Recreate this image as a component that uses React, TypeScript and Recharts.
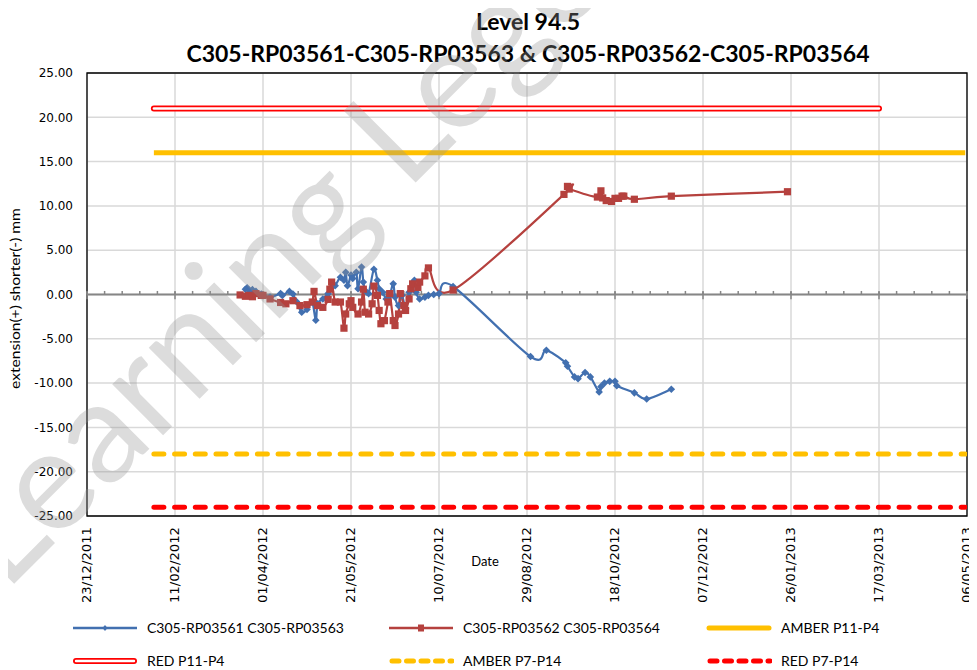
import React from 'react'
import { LineChart, Line, XAxis, YAxis, CartesianGrid, ReferenceLine, ReferenceArea, Legend } from 'recharts'

const DAY = 86400000
const toTime = (s: string) => {
  const [d, m, y] = s.split('/').map(Number)
  return Date.UTC(y, m - 1, d)
}
const pad = (n: number) => (n < 10 ? '0' + n : '' + n)
const fmtDate = (t: number) => {
  const dt = new Date(t)
  return `${pad(dt.getUTCDate())}/${pad(dt.getUTCMonth() + 1)}/${dt.getUTCFullYear()}`
}

// axes
const xStart = '23/12/2011'
const xEnd = '06/05/2013'
const majorStepDays = 50
const minorStepDays = 10
const yTicks = [-25, -20, -15, -10, -5, 0, 5, 10, 15, 20, 25]

// C305-RP03561 C305-RP03563
const blueDates = [
  '22/03/2012', '23/03/2012', '24/03/2012', '26/03/2012', '28/03/2012', '31/03/2012', '05/04/2012', '11/04/2012',
  '12/04/2012', '16/04/2012', '18/04/2012', '20/04/2012', '23/04/2012', '26/04/2012', '29/04/2012', '01/05/2012',
  '02/05/2012', '05/05/2012', '08/05/2012', '12/05/2012', '15/05/2012', '17/05/2012', '18/05/2012', '19/05/2012',
  '21/05/2012', '22/05/2012', '24/05/2012', '25/05/2012', '27/05/2012', '28/05/2012', '29/05/2012', '31/05/2012',
  '03/06/2012', '05/06/2012', '06/06/2012', '08/06/2012', '10/06/2012', '12/06/2012', '14/06/2012', '15/06/2012',
  '17/06/2012', '19/06/2012', '21/06/2012', '23/06/2012', '26/06/2012', '27/06/2012', '29/06/2012', '02/07/2012',
  '04/07/2012', '07/07/2012', '10/07/2012', '18/07/2012', '31/08/2012', '09/09/2012', '20/09/2012', '21/09/2012',
  '25/09/2012', '27/09/2012', '01/10/2012', '04/10/2012', '09/10/2012', '10/10/2012', '12/10/2012', '15/10/2012',
  '18/10/2012', '19/10/2012', '29/10/2012', '05/11/2012', '19/11/2012',
]
const blueValues = [
  0.6, 0.75, 0.5, 0.55, 0.35, 0.05, -0.3, 0.1,
  -0.1, 0.35, 0.05, -0.8, -2.0, -1.7, -0.9, -2.9,
  -1.05, -0.5, 0.1, 1.0, 1.95, 1.6, 2.5, 1.0,
  2.2, 1.8, 2.5, 0.65, 3.1, 1.4, 0.45, 0.1,
  2.85, 1.6, 0.65, 0.25, -0.5, -0.1, 1.2, -0.3,
  -1.25, -0.1, -1.6, 0.25, 1.6, 0.25, -0.5, -0.3,
  -0.1, 0.0, 0.1, 0.9, -7.0, -6.3, -7.7, -8.1,
  -9.3, -9.5, -8.8, -9.3, -11.0, -10.4, -10.0, -9.8,
  -9.8, -10.3, -11.1, -11.8, -10.7,
]

// C305-RP03562 C305-RP03564
const redDates = [
  '19/03/2012', '22/03/2012', '24/03/2012', '26/03/2012', '28/03/2012', '31/03/2012', '01/04/2012', '05/04/2012',
  '11/04/2012', '14/04/2012', '18/04/2012', '22/04/2012', '26/04/2012', '29/04/2012', '30/04/2012', '02/05/2012',
  '05/05/2012', '08/05/2012', '09/05/2012', '10/05/2012', '12/05/2012', '15/05/2012', '17/05/2012', '18/05/2012',
  '20/05/2012', '21/05/2012', '22/05/2012', '25/05/2012', '27/05/2012', '28/05/2012', '29/05/2012', '31/05/2012',
  '02/06/2012', '03/06/2012', '05/06/2012', '06/06/2012', '07/06/2012', '09/06/2012', '11/06/2012', '12/06/2012',
  '14/06/2012', '15/06/2012', '17/06/2012', '18/06/2012', '20/06/2012', '21/06/2012', '23/06/2012', '24/06/2012',
  '25/06/2012', '28/06/2012', '29/06/2012', '02/07/2012', '04/07/2012', '18/07/2012', '19/09/2012', '21/09/2012',
  '22/09/2012', '08/10/2012', '10/10/2012', '11/10/2012', '13/10/2012', '16/10/2012', '18/10/2012', '20/10/2012',
  '22/10/2012', '23/10/2012', '29/10/2012', '19/11/2012', '24/01/2013',
]
const redValues = [
  -0.05, -0.2, -0.1, -0.25, 0.1, -0.1, -0.1, -0.5,
  -0.9, -1.05, -0.7, -1.25, -1.15, -0.85, 0.35, -1.25,
  -1.45, -0.55, 0.6, 1.4, -0.85, -0.85, -3.8, -2.2,
  -1.05, -0.7, -1.45, -2.2, -0.85, 0.6, -2.0, -2.2,
  -1.05, 0.95, -0.1, -1.8, -3.3, -2.95, -0.85, 0.1,
  -2.95, -3.5, -2.2, 0.1, -1.25, -1.8, -0.5, 0.65,
  1.2, 0.8, 1.4, 2.1, 3.0, 0.5, 11.3, 12.2,
  11.9, 11.0, 11.7, 10.9, 10.6, 10.5, 10.85, 10.85,
  11.1, 11.1, 10.75, 11.1, 11.6,
]

// limit lines
const limitDates = ['30/01/2012', '05/05/2013']
const redP11Dates = ['30/01/2012', '17/03/2013']
const amberP11 = 16
const redP11 = 21
const amberP7 = -18
const redP7 = -24

const BLUE = '#4270b0'
const RED = '#b5413e'
const AMBER = '#ffc000'
const BRIGHT_RED = '#ff0000'

const t0 = toTime(xStart)
const t1 = toTime(xEnd)
const majorTicks: number[] = []
for (let t = t0; t <= t1; t += majorStepDays * DAY) majorTicks.push(t)
const minorTicks: number[] = []
for (let t = t0; t <= t1; t += minorStepDays * DAY) minorTicks.push(t)

const blueData = blueDates.map((d, i) => ({ t: toTime(d), v: blueValues[i] }))
const redData = redDates.map((d, i) => ({ t: toTime(d), v: redValues[i] }))
const flat = (dates: string[], v: number) => dates.map((d) => ({ t: toTime(d), v }))

// Excel-like smoothed line (Catmull-Rom through the points)
const smoothCurve = (context: any) => {
  let pts: number[][] = []
  return {
    areaStart() {},
    areaEnd() {},
    lineStart() {
      pts = []
    },
    point(x: number, y: number) {
      pts.push([+x, +y])
    },
    lineEnd() {
      const n = pts.length
      if (!n) return
      context.moveTo(pts[0][0], pts[0][1])
      for (let i = 0; i < n - 1; i++) {
        const p0 = pts[i - 1] || pts[i]
        const p1 = pts[i]
        const p2 = pts[i + 1]
        const p3 = pts[i + 2] || p2
        context.bezierCurveTo(
          p1[0] + (p2[0] - p0[0]) / 6,
          p1[1] + (p2[1] - p0[1]) / 6,
          p2[0] - (p3[0] - p1[0]) / 6,
          p2[1] - (p3[1] - p1[1]) / 6,
          p2[0],
          p2[1]
        )
      }
    },
  }
}

const Diamond = (props: any) => {
  const { cx, cy, index } = props
  const s = 3.8
  return <path key={`bd${index}`} d={`M${cx},${cy - s}L${cx + s},${cy}L${cx},${cy + s}L${cx - s},${cy}Z`} fill={BLUE} />
}

const Square = (props: any) => {
  const { cx, cy, index } = props
  const s = 3.6
  return <rect key={`rs${index}`} x={cx - s} y={cy - s} width={2 * s} height={2 * s} fill={RED} />
}

const DateTick = (props: any) => {
  const { x, y, payload } = props
  return (
    <text
      transform={`translate(${x},${y + 3}) rotate(-90) scale(1.1,1)`}
      textAnchor="end"
      dominantBaseline="central"
      fontFamily="DejaVu Sans"
      fontSize={12}
      fill="#000"
    >
      {fmtDate(payload.value)}
    </text>
  )
}

const legendItems = [
  { label: 'C305-RP03561 C305-RP03563', kind: 'blue', col: 0, row: 0 },
  { label: 'C305-RP03562 C305-RP03564', kind: 'red', col: 1, row: 0 },
  { label: 'AMBER P11-P4', kind: 'amber', col: 2, row: 0 },
  { label: 'RED P11-P4', kind: 'double', col: 0, row: 1 },
  { label: 'AMBER P7-P14', kind: 'amberDash', col: 1, row: 1 },
  { label: 'RED P7-P14', kind: 'redDash', col: 2, row: 1 },
]
const colX = [64, 380, 698]
const rowY = [16, 49]

const LegendIcon = ({ kind }: { kind: string }) => (
  <svg width={66} height={12} style={{ display: 'block' }}>
    {kind === 'blue' && (
      <>
        <line x1={1} y1={6} x2={65} y2={6} stroke={BLUE} strokeWidth={2.5} />
        <path d="M33,3L35.5,6L33,9L30.5,6Z" fill={BLUE} />
      </>
    )}
    {kind === 'red' && (
      <>
        <line x1={1} y1={6} x2={65} y2={6} stroke={RED} strokeWidth={2.5} />
        <rect x={30} y={2.5} width={6} height={7} fill={RED} />
      </>
    )}
    {kind === 'amber' && <line x1={3} y1={6} x2={63} y2={6} stroke={AMBER} strokeWidth={5} strokeLinecap="round" />}
    {kind === 'double' && (
      <>
        <line x1={4} y1={6} x2={62} y2={6} stroke={BRIGHT_RED} strokeWidth={6} strokeLinecap="round" />
        <line x1={4} y1={6} x2={62} y2={6} stroke="#fff" strokeWidth={2.4} strokeLinecap="round" />
      </>
    )}
    {kind === 'amberDash' && (
      <line x1={4} y1={6} x2={64} y2={6} stroke={AMBER} strokeWidth={5} strokeDasharray="7 7.5" strokeLinecap="round" />
    )}
    {kind === 'redDash' && (
      <line x1={4} y1={6} x2={64} y2={6} stroke={BRIGHT_RED} strokeWidth={5} strokeDasharray="7 7.5" strokeLinecap="round" />
    )}
  </svg>
)

const renderLegend = () => (
  <div style={{ position: 'relative', width: 969, height: 58 }}>
    {legendItems.map((it) => (
      <div key={it.label}>
        <div style={{ position: 'absolute', left: colX[it.col], top: rowY[it.row] - 6 }}>
          <LegendIcon kind={it.kind} />
        </div>
        <div
          style={{
            position: 'absolute',
            left: colX[it.col] + 75,
            top: rowY[it.row] - 10,
            fontFamily: 'Lato',
            fontSize: 14,
            lineHeight: '20px',
            color: '#000',
            whiteSpace: 'nowrap',
          }}
        >
          {it.label}
        </div>
      </div>
    ))}
  </div>
)

export default function App() {
  return (
    <div style={{ position: 'relative', width: 969, height: 662, overflow: 'hidden', background: '#fff' }}>
      <div
        style={{
          position: 'absolute',
          left: 120,
          width: 800,
          top: -3,
          textAlign: 'center',
          fontFamily: 'Lato',
          fontWeight: 700,
          fontSize: 23,
          lineHeight: '32px',
          color: '#000',
        }}
      >
        <div>Level 94.5</div>
        <div>C305-RP03561-C305-RP03563 &amp; C305-RP03562-C305-RP03564</div>
      </div>
      <LineChart width={969} height={662} margin={{ top: 65, right: 10, bottom: 0, left: 5 }}>
        <CartesianGrid stroke="#d9d9d9" strokeWidth={1.5} />
        <XAxis
          dataKey="t"
          type="number"
          domain={[t0, t1]}
          ticks={majorTicks}
          interval={0}
          allowDataOverflow
          axisLine={false}
          tickLine={false}
          height={96}
          tick={<DateTick />}
          label={{
            content: (p: any) => (
              <text
                x={p.viewBox.x + p.viewBox.width / 2 - 42}
                y={p.viewBox.y + 50}
                textAnchor="middle"
                fontFamily="Lato"
                fontSize={13}
                fill="#000"
              >
                Date
              </text>
            ),
          }}
        />
        <YAxis
          type="number"
          domain={[-25, 25]}
          ticks={yTicks}
          interval={0}
          width={74}
          axisLine={false}
          tickLine={false}
          tickMargin={8}
          tickFormatter={(v: number) => v.toFixed(2)}
          tick={{ fontFamily: 'DejaVu Sans', fontSize: 12, fill: '#000' }}
          label={{
            content: (p: any) => (
              <text
                transform={`translate(${p.viewBox.x + 2},${p.viewBox.y + p.viewBox.height / 2 + 4}) rotate(-90) scale(1.2,1)`}
                textAnchor="middle"
                dominantBaseline="central"
                fontFamily="Lato"
                fontSize={13}
                fill="#000"
              >
                extension(+) shorter(-) mm
              </text>
            ),
          }}
        />
        <ReferenceArea x1={t0} x2={t1} y1={-25} y2={25} fill="none" fillOpacity={0} stroke="#000" strokeWidth={1.3} />
        <ReferenceLine y={0} stroke="#868686" strokeWidth={2} />
        {minorTicks.map((t) => (
          <ReferenceLine
            key={`mt${t}`}
            segment={[{ x: t, y: 0 }, { x: t, y: 0.4 }]}
            stroke="#868686"
            strokeWidth={1.5}
          />
        ))}
        {majorTicks.map((t) => (
          <ReferenceLine
            key={`Mt${t}`}
            segment={[{ x: t, y: -0.55 }, { x: t, y: 0.3 }]}
            stroke="#868686"
            strokeWidth={1.5}
          />
        ))}
        <Line
          data={flat(redP11Dates, redP11)}
          dataKey="v"
          name="RED P11-P4"
          stroke={BRIGHT_RED}
          strokeWidth={6}
          strokeLinecap="round"
          dot={false}
          legendType="none"
          isAnimationActive={false}
        />
        <Line
          data={flat(redP11Dates, redP11)}
          dataKey="v"
          name="RED P11-P4 inner"
          stroke="#fff"
          strokeWidth={2.4}
          strokeLinecap="round"
          dot={false}
          legendType="none"
          isAnimationActive={false}
        />
        <Line
          data={flat(limitDates, amberP11)}
          dataKey="v"
          name="AMBER P11-P4"
          stroke={AMBER}
          strokeWidth={5}
          dot={false}
          isAnimationActive={false}
        />
        <Line
          data={flat(limitDates, amberP7)}
          dataKey="v"
          name="AMBER P7-P14"
          stroke={AMBER}
          strokeWidth={5}
          strokeDasharray="10 10.7"
          strokeLinecap="round"
          dot={false}
          isAnimationActive={false}
        />
        <Line
          data={flat(limitDates, redP7)}
          dataKey="v"
          name="RED P7-P14"
          stroke={BRIGHT_RED}
          strokeWidth={5}
          strokeDasharray="10 10.7"
          strokeLinecap="round"
          dot={false}
          isAnimationActive={false}
        />
        <Line
          data={blueData}
          dataKey="v"
          name="C305-RP03561 C305-RP03563"
          type={smoothCurve as any}
          stroke={BLUE}
          strokeWidth={2.2}
          dot={Diamond}
          activeDot={false}
          isAnimationActive={false}
        />
        <Line
          data={redData}
          dataKey="v"
          name="C305-RP03562 C305-RP03564"
          type={smoothCurve as any}
          stroke={RED}
          strokeWidth={2.2}
          dot={Square}
          activeDot={false}
          isAnimationActive={false}
        />
        <Legend
          verticalAlign="bottom"
          content={renderLegend}
          wrapperStyle={{ left: 0, width: 969, height: 58 }}
        />
      </LineChart>
      <div
        style={{
          position: 'absolute',
          left: -92,
          top: 496,
          transformOrigin: '0 0',
          transform: 'rotate(-45deg)',
          fontFamily: 'Lato',
          fontSize: 142,
          lineHeight: '142px',
          color: 'rgba(150,150,150,0.33)',
          whiteSpace: 'nowrap',
          pointerEvents: 'none',
        }}
      >
        Learning Legends
      </div>
    </div>
  )
}
